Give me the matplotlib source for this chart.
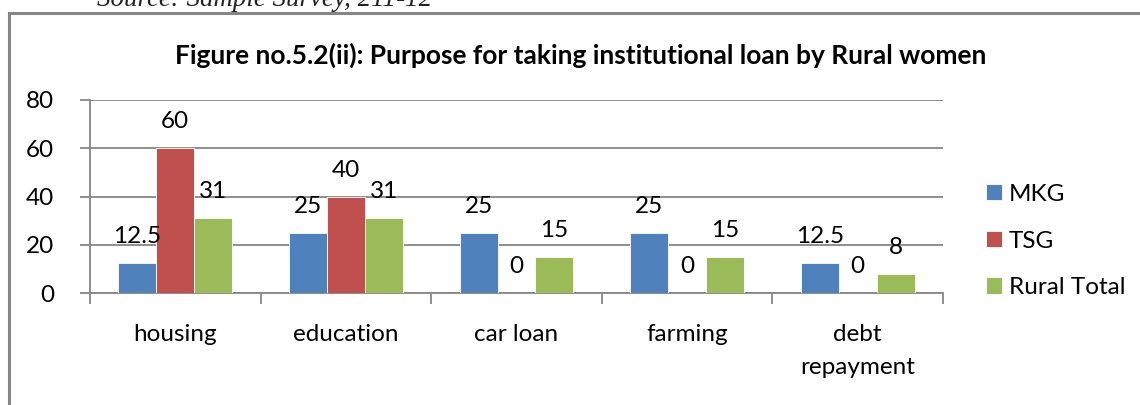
import numpy as np
import matplotlib
matplotlib.use("Agg")
import matplotlib.pyplot as plt
from matplotlib.patches import Rectangle

plt.rcParams['font.family'] = ['Lato', 'DejaVu Sans']

purposes = ["housing", "education", "car loan", "farming", "debt\nrepayment"]
series = ["MKG", "TSG", "Rural Total"]
mkg = [12.5, 25, 25, 25, 12.5]
tsg = [60, 40, 0, 0, 0]
rural_total = [31, 31, 15, 15, 8]
value_text = [
    ["12.5", "25", "25", "25", "12.5"],
    ["60", "40", "0", "0", "0"],
    ["31", "31", "15", "15", "8"],
]
colors = ["#4F81BD", "#C0504D", "#9BBB59"]

W, H = 1140, 405
fig = plt.figure(figsize=(W / 100, H / 100), dpi=100)

# outer chart frame (only the top and left edges sit inside the image)
fig.patches.append(Rectangle((9 / W, -0.1), 1.2, 1 - 13 / H + 0.1,
                             transform=fig.transFigure, fill=False,
                             edgecolor="#868686", linewidth=2.2))

fig.text(97 / W, 1 - 6 / H, "Source: Sample Survey, 211-12", family="Liberation Serif",
         style="italic", fontsize=19.4, va="baseline", ha="left", color="#222222")

fig.text(581 / W, 1 - 55 / H,
         "Figure no.5.2(ii): Purpose for taking institutional loan by Rural women",
         fontsize=19, fontweight="bold", ha="center", va="center")

ax = fig.add_axes([90 / W, 1 - 293 / H, (943 - 90) / W, (293 - 100) / H])

x = np.arange(len(purposes))
width = 1 / 4.5
for i, (vals, name) in enumerate(zip([mkg, tsg, rural_total], series)):
    pos = x + (i - 1) * width
    bars = ax.bar(pos, vals, width, color=colors[i], label=name,
                  edgecolor="white", linewidth=0.6, zorder=3)
    for b, v, t in zip(bars, vals, value_text[i]):
        ax.annotate(t, (b.get_x() + b.get_width() / 2, v), xytext=(0, 19),
                    textcoords="offset points", ha="center", va="center",
                    fontsize=17.5, color="black", zorder=4)

ax.set_xlim(-0.5, len(purposes) - 0.5)
ax.set_ylim(0, 80)
ax.set_yticks([0, 20, 40, 60, 80])
ax.yaxis.grid(True, color="#868686", linewidth=1.3, zorder=0)
ax.set_axisbelow(True)

ax.set_xticks(x)
ax.set_xticklabels(purposes, fontsize=17.5, linespacing=1.72)
ax.set_xticks(np.arange(len(purposes) + 1) - 0.5, minor=True)
ax.tick_params(axis="x", which="major", length=0, pad=22)
ax.tick_params(axis="x", which="minor", length=8, width=1.3, color="#868686")
ax.tick_params(axis="y", length=7, width=1.3, color="#868686", labelsize=17.5, pad=19)

for side in ["top", "right"]:
    ax.spines[side].set_visible(False)
for side in ["left", "bottom"]:
    ax.spines[side].set_color("#868686")
    ax.spines[side].set_linewidth(1.3)

ax.legend(loc="center left", bbox_to_anchor=((986 - 90) / (943 - 90), (293 - 241) / (293 - 100)),
          frameon=False, fontsize=17.5, handlelength=0.64, handleheight=0.64,
          handletextpad=0.3, labelspacing=1.05, borderpad=0, borderaxespad=0)

fig.savefig("out.png", dpi=100)
